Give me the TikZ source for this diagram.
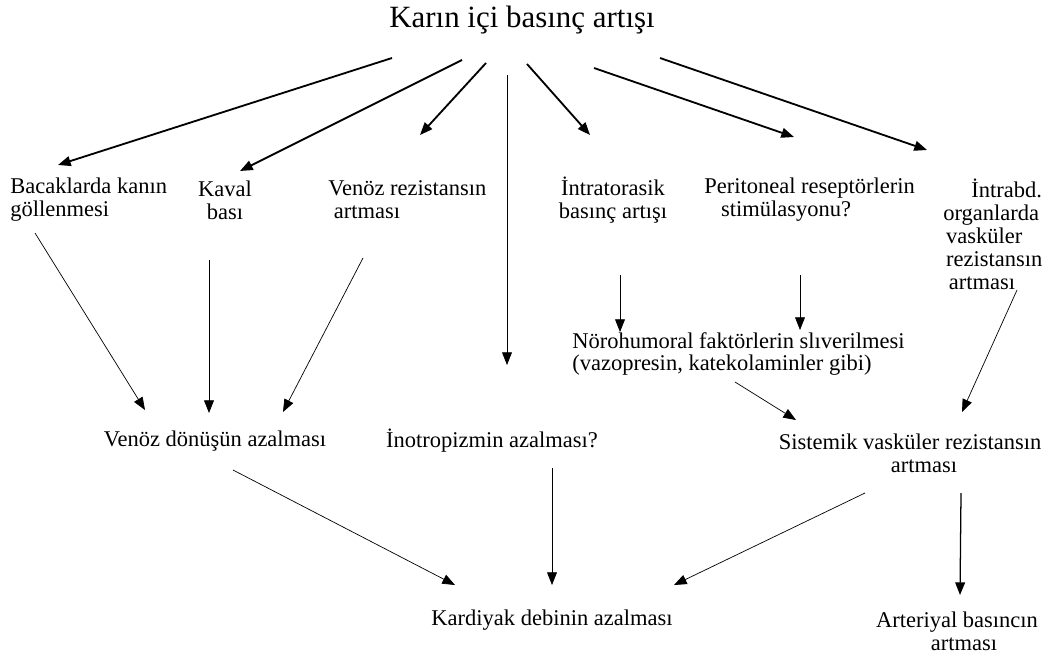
\documentclass[tikz,border=0pt]{standalone}
\usepackage{fontspec}
\setmainfont{Liberation Serif}
\usepackage{tikz}
\usetikzlibrary{arrows.meta}

\begin{document}
\begin{tikzpicture}[x=0.025cm,y=-0.025cm,
	>={Triangle[length=9pt,width=7pt]},
	lbl/.style={inner sep=0pt,font=\fontsize{16}{16.3}\selectfont},
	thickarr/.style={->,line width=1.3pt},
	thinarr/.style={->,line width=0.5pt}]
	\useasboundingbox (0,0) rectangle (1049,664);
	% labels
	\node [inner sep=0pt,font=\fontsize{22}{24}\selectfont] (karin) at (522,20) {Karın içi basınç artışı};
	\node [lbl,anchor=west,align=left] (bacak) at (10,200) {Bacaklarda kanın\\göllenmesi};
	\node [lbl,align=center] (kaval) at (225,200) {Kaval\\bası};
	\node [lbl,anchor=west,align=left] (venrez) at (328,200) {Venöz rezistansın\\\hspace*{4pt}artması};
	\node [lbl,align=center] (intra) at (613,200) {İntratorasik\\basınç artışı};
	\node [lbl,anchor=west,align=left] (perit) at (704,200) {Peritoneal reseptörlerin\\\hspace*{12pt}stimülasyonu?};
	\node [lbl,anchor=west,align=left] (abd) at (943,234) {\hspace*{20pt}İntrabd.\\organlarda\\\hspace*{2pt}vasküler\\\hspace*{2pt}rezistansın\\\hspace*{4pt}artması};
	\node [lbl,anchor=west,align=left] (noro) at (572,354) {Nörohumoral faktörlerin slıverilmesi\\(vazopresin, katekolaminler gibi)};
	\node [lbl] (vdon) at (215,441) {Venöz dönüşün azalması};
	\node [lbl] (ino) at (492,441) {İnotropizmin azalması?};
	\node [lbl,align=center] (sis) at (910,453) {Sistemik vasküler rezistansın\\\hspace*{20pt}artması};
	\node [lbl,align=center] (art) at (957,631) {Arteriyal basıncın\\\hspace*{10pt}artması};
	\node [lbl] (kard) at (552,620) {Kardiyak debinin azalması};

	% from the top
	\draw [thickarr] ([shift={(-130,38)}]karin.center) -- ([shift={(48,-35)}]bacak.west);
	\draw [thickarr] ([shift={(-60,40)}]karin.center) -- ([shift={(15,-29)}]kaval.center);
	\draw [thickarr] ([shift={(-36,43)}]karin.center) -- ([shift={(92,-65)}]venrez.west);
	\draw [thinarr] ([shift={(-15,55)}]karin.center) -- ([shift={(15,-76)}]ino.center);
	\draw [thickarr] ([shift={(5,44)}]karin.center) -- ([shift={(-23,-65)}]intra.center);
	\draw [thickarr] ([shift={(72,48)}]karin.center) -- ([shift={(90,-63)}]perit.west);
	\draw [thickarr] ([shift={(138,38)}]karin.center) -- ([shift={(-16,-84)}]abd.west);

	% middle row
	\draw [thinarr] ([shift={(25,33)}]bacak.west) -- ([shift={(-70,-31)}]vdon.center);
	\draw [thinarr] ([shift={(-16,60)}]kaval.center) -- ([shift={(-6,-28)}]vdon.center);
	\draw [thinarr] ([shift={(35,58)}]venrez.west) -- ([shift={(68,-29)}]vdon.center);
	\draw [thinarr] ([shift={(7,75)}]intra.center) -- ([shift={(48,-22)}]noro.west);
	\draw [thinarr] ([shift={(96,75)}]perit.west) -- ([shift={(228,-24)}]noro.west);
	\draw [thinarr] ([shift={(74,56)}]abd.west) -- ([shift={(52,-41)}]sis.center);
	\draw [thinarr] ([shift={(163,28)}]noro.west) -- ([shift={(-114,-33)}]sis.center);

	% bottom row
	\draw [thinarr] ([shift={(18,29)}]vdon.center) -- ([shift={(-97,-35)}]kard.center);
	\draw [thinarr] ([shift={(60,27)}]ino.center) -- ([shift={(0,-35)}]kard.center);
	\draw [thinarr] ([shift={(-45,40)}]sis.center) -- ([shift={(122,-35)}]kard.center);
	\draw [->,line width=0.9pt] ([shift={(51,40)}]sis.center) -- ([shift={(3,-36)}]art.center);

\end{tikzpicture}
\end{document}
